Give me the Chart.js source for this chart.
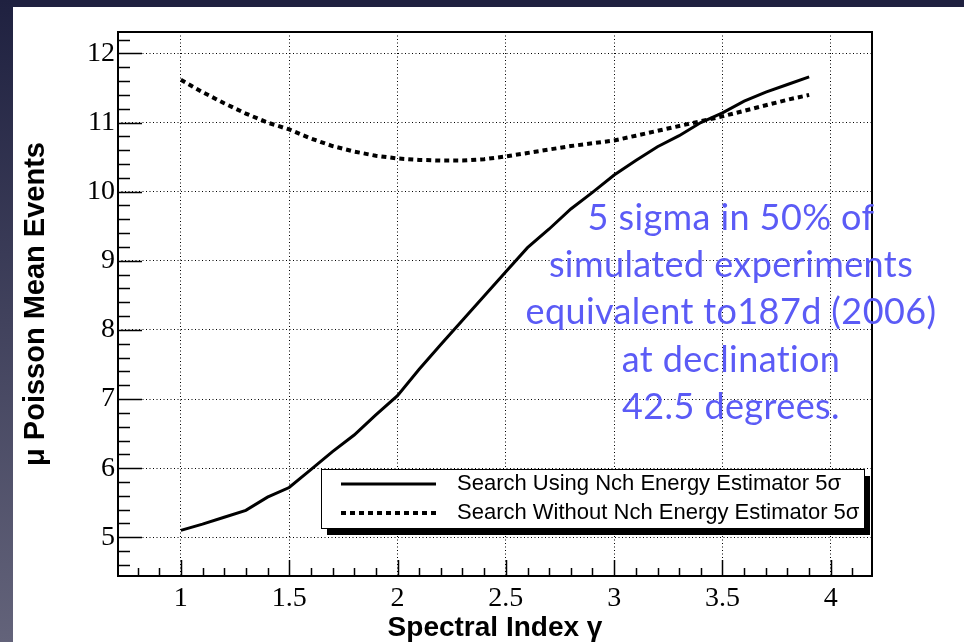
<!DOCTYPE html>
<html><head><meta charset="utf-8">
<script src="https://cdn.jsdelivr.net/npm/chart.js@4"></script>
<style>html,body{margin:0;padding:0;background:#fff;overflow:hidden}#wrap{width:964px;height:642px}</style>
</head><body><div id="wrap"><canvas id="c" width="964" height="642"></canvas></div>
<script>
// ---- data ----
const spectralIndex = [1.0,1.1,1.2,1.3,1.4,1.5,1.6,1.7,1.8,1.9,2.0,2.1,2.2,2.3,2.4,2.5,2.6,2.7,2.8,2.9,3.0,3.1,3.2,3.3,3.4,3.5,3.6,3.7,3.8,3.9];
const withNch    = [5.10,5.19,5.29,5.39,5.58,5.72,5.98,6.24,6.48,6.77,7.05,7.43,7.79,8.14,8.49,8.84,9.19,9.46,9.75,9.99,10.24,10.45,10.65,10.81,11.00,11.14,11.31,11.44,11.55,11.66];
const withoutNch = [11.62,11.44,11.28,11.13,11.00,10.90,10.77,10.66,10.58,10.52,10.48,10.46,10.45,10.45,10.47,10.51,10.56,10.61,10.66,10.70,10.74,10.81,10.88,10.95,11.02,11.09,11.17,11.25,11.33,11.40];
const xTickValues = [1,1.5,2,2.5,3,3.5,4];
const yTickValues = [5,6,7,8,9,10,11,12];
const seriesLabels = ['Search Using Nch Energy Estimator 5σ','Search Without Nch Energy Estimator 5σ'];
const xTitle = 'Spectral Index γ';
const yTitle = 'μ Poisson Mean Events';
const noteLines = ['5 sigma in 50% of','simulated experiments','equivalent to187d (2006)','at declination','42.5 degrees.'];

const toXY = (ys) => spectralIndex.map((x,i)=>({x, y: ys[i]}));

const deco = {
  id: 'deco',
  beforeDraw(chart){
    const c = chart.ctx, W = chart.width, H = chart.height;
    c.save();
    c.fillStyle = '#1f2140'; c.fillRect(0,0,W,H);
    const g = c.createLinearGradient(0,0,0,H);
    g.addColorStop(0,'#1f2140'); g.addColorStop(1,'#63637a');
    c.fillStyle = g; c.fillRect(0,0,13,H);
    c.fillStyle = '#ffffff'; c.fillRect(13,7,W-13,H-7);
    c.restore();
  },
  afterDraw(chart){
    const {ctx:c, chartArea:a, scales:{x, y}} = chart;
    c.save();
    // inner ticks (ROOT style)
    c.strokeStyle = '#000'; c.lineWidth = 1.5;
    c.beginPath();
    for (let v = Math.ceil(x.min*10); v <= Math.floor(x.max*10); v++){
      const px = Math.round(x.getPixelForValue(v/10)) + 0.5;
      const major = v % 5 === 0;
      c.moveTo(px, a.bottom); c.lineTo(px, a.bottom - (major ? 16 : 8));
    }
    for (let v = Math.ceil(y.min*5); v <= Math.floor(y.max*5); v++){
      const py = Math.round(y.getPixelForValue(v/5)) + 0.5;
      const major = v % 5 === 0;
      c.moveTo(a.left, py); c.lineTo(a.left + (major ? 24 : 12), py);
    }
    c.stroke();
    // frame
    c.lineWidth = 2;
    c.strokeRect(a.left, a.top, a.right - a.left, a.bottom - a.top);

    // legend box with shadow
    const L = 321, T = 469, Wd = 543, Hd = 59;
    c.fillStyle = '#000'; c.fillRect(L+6, T+7, Wd, Hd);
    c.fillStyle = '#fff'; c.fillRect(L, T, Wd, Hd);
    c.lineWidth = 1; c.strokeStyle = '#000';
    c.strokeRect(L+0.5, T+0.5, Wd, Hd);
    const ds = chart.data.datasets;
    const rows = [T+15, T+44];
    c.font = '22px "Liberation Sans", Arial, sans-serif';
    c.textBaseline = 'middle'; c.textAlign = 'left';
    ds.forEach((d,i)=>{
      c.beginPath();
      c.lineWidth = d.borderWidth; c.strokeStyle = d.borderColor;
      c.setLineDash(d.borderDash || []);
      c.moveTo(341, rows[i]); c.lineTo(436, rows[i]); c.stroke();
      c.setLineDash([]);
      c.fillStyle = '#000';
      c.fillText(d.label, 457, rows[i]);
    });

    // annotation text
    c.font = '36px Lato, "Open Sans", sans-serif';
    if ('letterSpacing' in c) c.letterSpacing = '0.4px';
    c.fillStyle = '#5b5bf6'; c.textAlign = 'center'; c.textBaseline = 'alphabetic';
    const base = [230, 277, 324, 372, 419];
    noteLines.forEach((t,i)=> c.fillText(t, 731, base[i]));
    c.restore();
  }
};

const tickFmt = v => String(+v.toFixed(2));

new Chart(document.getElementById('c'), {
  type: 'scatter',
  data: {
    datasets: [
      {label: seriesLabels[0], data: toXY(withNch), showLine: true, borderColor: '#000', backgroundColor: '#000', borderWidth: 3, pointRadius: 0, tension: 0, borderDash: []},
      {label: seriesLabels[1], data: toXY(withoutNch), showLine: true, borderColor: '#000', backgroundColor: '#000', borderWidth: 4, pointRadius: 0, tension: 0, borderDash: [5,4], borderCapStyle: 'butt'}
    ]
  },
  options: {
    responsive: false, animation: false, devicePixelRatio: 1,
    layout: {padding: {left: 0, top: 32, right: 92, bottom: 0}},
    plugins: {legend: {display: false}, tooltip: {enabled: false}},
    scales: {
      x: {
        type: 'linear', min: 0.71, max: 4.19,
        afterBuildTicks: s => { s.ticks = xTickValues.map(v => ({value: v})); },
        afterFit: s => { s.height = 66; },
        grid: {color: '#000', lineWidth: 1, drawTicks: false},
        border: {display: false, dash: [1, 2.5]},
        ticks: {color: '#000', font: {family: '"Liberation Serif", "Times New Roman", serif', size: 28}, padding: 6, maxRotation: 0, autoSkip: false, callback: tickFmt},
        title: {display: true, text: xTitle, color: '#000', font: {family: '"Liberation Sans", Arial, sans-serif', size: 28, weight: 'bold', lineHeight: 1}, padding: {top: 0, bottom: 0}}
      },
      y: {
        type: 'linear', min: 4.44, max: 12.31,
        afterBuildTicks: s => { s.ticks = yTickValues.map(v => ({value: v})); },
        afterFit: s => { s.width = 118; },
        grid: {color: '#000', lineWidth: 1, drawTicks: false},
        border: {display: false, dash: [1, 2.5]},
        ticks: {color: '#000', font: {family: '"Liberation Serif", "Times New Roman", serif', size: 28}, padding: 3, autoSkip: false, callback: tickFmt},
        title: {display: true, text: yTitle, color: '#000', font: {family: '"Liberation Sans", Arial, sans-serif', size: 29, weight: 'bold', lineHeight: 1}, padding: {top: 21, bottom: 0}}
      }
    }
  },
  plugins: [deco]
});
</script></body></html>
